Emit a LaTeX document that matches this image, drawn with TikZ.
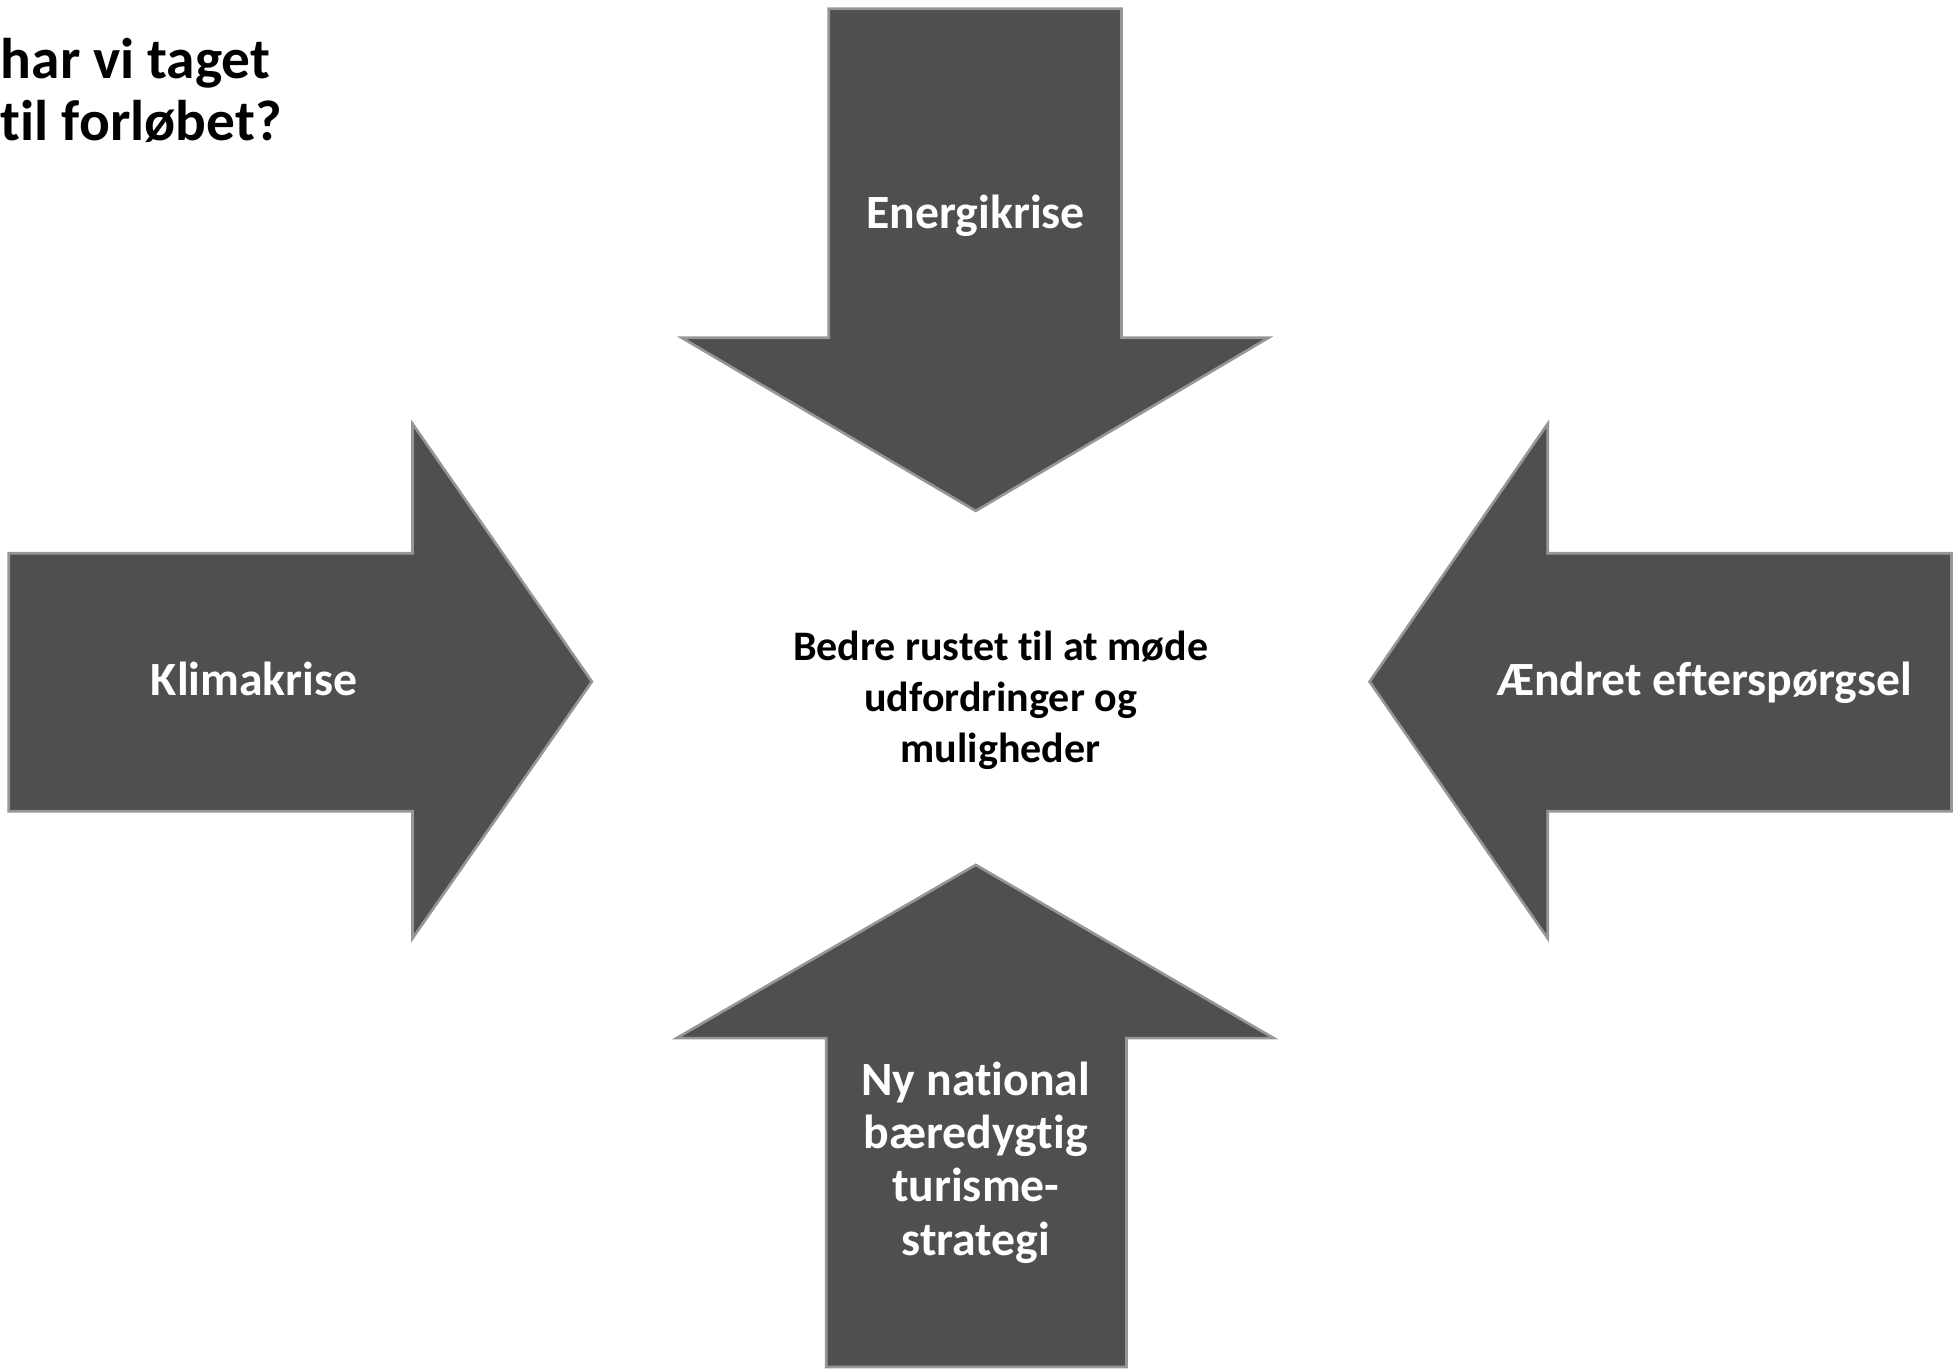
\documentclass[tikz,border=0pt]{standalone}
\usepackage{fontspec}
\setmainfont{Carlito}[Ligatures={NoCommon}]
\definecolor{arrowfill}{RGB}{79,79,79}
\definecolor{arrowrim}{RGB}{150,150,150}
\begin{document}
\begin{tikzpicture}[x=0.1mm,y=-0.1mm,
  bigarrow/.style={fill=arrowfill,draw=arrowrim,line width=0.6pt,line join=miter},
  lbl/.style={text=white,font=\bfseries\fontsize{10.9}{12.15}\selectfont,inner sep=0pt,align=center},
  ctext/.style={text=black,font=\bfseries\fontsize{9.6}{11.67}\selectfont,inner sep=0pt,align=center},
  ttext/.style={text=black,font=\bfseries\fontsize{13.1}{14.2}\selectfont,inner sep=0pt}]
\useasboundingbox (0,0) rectangle (1568,1099);
% arrows
\draw[bigarrow] (665,7) -- (900,7) -- (900,271) -- (1018,271) -- (783,410) -- (547,271) -- (665,271) -- cycle;
\draw[bigarrow] (7,444) -- (331,444) -- (331,340) -- (475,547) -- (331,753) -- (331,651) -- (7,651) -- cycle;
\draw[bigarrow] (1566,444) -- (1242,444) -- (1242,340) -- (1099,547) -- (1242,753) -- (1242,651) -- (1566,651) -- cycle;
\draw[bigarrow] (663,1097) -- (663,833) -- (543,833) -- (783,694) -- (1022,833) -- (904,833) -- (904,1097) -- cycle;
% labels
\node[lbl,anchor=base] (energi) at (783,183) {Energikrise};
\node[lbl,anchor=base] (klima) at (204,558) {Klimakrise};
\node[lbl,anchor=base] (aendret) at (1368,558) {Ændret efterspørgsel};
\node[lbl] (strategi) at (783,933) {Ny national\\bæredygtig\\turisme-\\strategi};
\node[ctext] (center) at (803,562) {Bedre rustet til at møde\\udfordringer og\\muligheder};
\node[ttext,anchor=base west] (title1) at (0,63) {har vi taget};
\node[ttext,anchor=base west] (title2) at (0,113) {til forløbet?};
\end{tikzpicture}
\end{document}
